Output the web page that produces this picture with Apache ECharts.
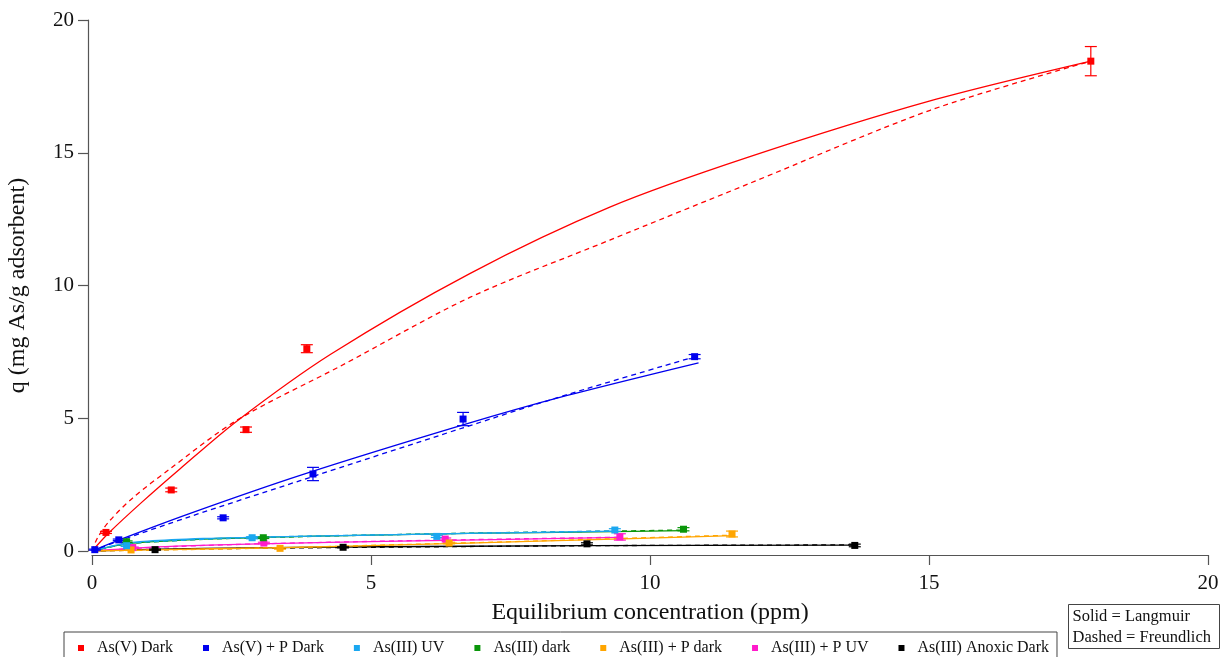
<!DOCTYPE html>
<html><head><meta charset="utf-8">
<script src="https://cdn.jsdelivr.net/npm/echarts@6/dist/echarts.min.js"></script>
<style>html,body{margin:0;padding:0;background:#fff}#c{width:1220px;height:657px}</style>
</head><body><div id="c"></div>
<script>
// Series names
const seriesNames = ['As(V) Dark','As(V) + P Dark','As(III) UV','As(III) dark','As(III) + P dark','As(III) + P UV','As(III) Anoxic Dark'];
const colors = ['#ff0000','#0000ee','#1aa7f0','#0a960a','#ffa500','#ff1acb','#000000'];

// Measured points [x, y, err]
const ptsAsVDark = [[0.25,0.70,0.04],[1.42,2.30,0.07],[2.76,4.57,0.10],[3.85,7.62,0.15],[17.9,18.45,0.55]];
const ptsAsVPDark = [[0.05,0.05,0.02],[0.48,0.42,0.03],[2.35,1.25,0.04],[3.96,2.90,0.25],[6.65,4.97,0.25],[10.8,7.32,0.08]];
const ptsAsIIIUV = [[0.62,0.20,0.03],[2.87,0.50,0.04],[6.18,0.55,0.04],[9.37,0.79,0.05]];
const ptsAsIIIDark = [[0.62,0.35,0.03],[3.07,0.50,0.03],[10.6,0.82,0.06]];
const ptsAsIIIPDark = [[0.70,0.04,0.02],[3.37,0.10,0.03],[6.40,0.30,0.03],[11.47,0.64,0.11]];
const ptsAsIIIPUV = [[0.73,0.13,0.02],[3.08,0.30,0.03],[6.33,0.45,0.04],[9.46,0.53,0.12]];
const ptsAsIIIAnoxic = [[1.13,0.05,0.02],[4.50,0.14,0.02],[8.87,0.27,0.04],[13.67,0.21,0.05]];

// Langmuir fit curves (solid)
const lanAsVDark = [[0,0],[0.3,0.68],[0.9,1.85],[1.58,3.1],[2.6,4.9],[4.27,7.4],[6.77,10.45],[9.28,12.95],[11.79,14.85],[15.02,16.95],[17.9,18.45]];
const lanAsVPDark = [[0,0],[0.5,0.43],[1.76,1.42],[3.73,2.85],[6.65,4.75],[8.5,5.85],[10.87,7.09]];
const lanAsIIIUV = [[0,0],[0.5,0.25],[1,0.37],[2,0.47],[3,0.52],[5,0.6],[7,0.67],[9.4,0.75]];
const lanAsIIIDark = [[0,0],[0.5,0.23],[1,0.34],[2,0.45],[3,0.51],[5,0.6],[7,0.67],[9,0.72],[10.6,0.77]];
const lanAsIIIPDark = [[0,0],[1,0.04],[3.37,0.13],[5.5,0.23],[8,0.37],[11.5,0.58]];
const lanAsIIIPUV = [[0,0],[0.7,0.1],[1.5,0.18],[3,0.27],[5.5,0.37],[9.46,0.51]];
const lanAsIIIAnoxic = [[0,0],[1,0.06],[2,0.1],[4.5,0.15],[8.87,0.2],[13.67,0.22]];

// Freundlich fit curves (dashed)
const freAsVDark = [[0,0],[0.1,0.5],[0.3,1.1],[0.73,2.0],[1.37,3.05],[2.6,4.93],[4.44,6.95],[6.77,9.55],[9.28,11.71],[11.79,13.85],[15.02,16.6],[17.9,18.45]];
const freAsVPDark = [[0,0],[0.5,0.39],[1.76,1.3],[3.73,2.65],[6.65,4.64],[8.5,5.88],[10.84,7.34]];
const freAsIIIUV = [[0,0],[0.5,0.24],[1,0.34],[3,0.52],[6,0.64],[9.4,0.76]];
const freAsIIIDark = [[0,0],[0.5,0.22],[1,0.33],[2,0.44],[3,0.5],[5,0.6],[7,0.68],[9,0.74],[10.6,0.79]];
const freAsIIIPDark = [[0,0],[1,0.03],[3.37,0.12],[5.5,0.24],[8,0.38],[11.5,0.6]];
const freAsIIIPUV = [[0,0],[0.7,0.09],[1.5,0.17],[3,0.27],[5.5,0.38],[9.46,0.52]];
const freAsIIIAnoxic = [[0,0],[1,0.04],[2,0.08],[4.5,0.13],[8.87,0.2],[13.67,0.23]];

// Axis ticks
const xTicks = [0,5,10,15,20];
const yTicks = [0,5,10,15,20];

const allPts = [ptsAsVDark,ptsAsVPDark,ptsAsIIIUV,ptsAsIIIDark,ptsAsIIIPDark,ptsAsIIIPUV,ptsAsIIIAnoxic];
const allLan = [lanAsVDark,lanAsVPDark,lanAsIIIUV,lanAsIIIDark,lanAsIIIPDark,lanAsIIIPUV,lanAsIIIAnoxic];
const allFre = [freAsVDark,freAsVPDark,freAsIIIUV,freAsIIIDark,freAsIIIPDark,freAsIIIPUV,freAsIIIAnoxic];

const FONT = 'Liberation Serif';
const series = [];
for (let i = allPts.length - 1; i >= 0; i--) {
  const c = colors[i];
  series.push({type:'line', name:seriesNames[i]+' L', data:allLan[i], smooth:0.3, showSymbol:false, symbol:'none',
    lineStyle:{color:c, width:1.3, type:'solid'}, silent:true, z:2});
  series.push({type:'line', name:seriesNames[i]+' F', data:allFre[i], smooth:0.3, showSymbol:false, symbol:'none',
    lineStyle:{color:c, width:1.3, type:[5,4]}, silent:true, z:2});
  series.push({type:'custom', name:seriesNames[i]+' E', data:allPts[i].map(p=>[p[0],p[1]-p[2],p[1]+p[2]]),
    renderItem:function(params, api){
      const lo = api.coord([api.value(0), api.value(1)]);
      const hi = api.coord([api.value(0), api.value(2)]);
      const w = 6;
      const st = {stroke:c, lineWidth:1.2};
      return {type:'group', children:[
        {type:'line', shape:{x1:lo[0],y1:lo[1],x2:hi[0],y2:hi[1]}, style:st},
        {type:'line', shape:{x1:lo[0]-w,y1:lo[1],x2:lo[0]+w,y2:lo[1]}, style:st},
        {type:'line', shape:{x1:hi[0]-w,y1:hi[1],x2:hi[0]+w,y2:hi[1]}, style:st}
      ]};
    }, encode:{x:0,y:[1,2]}, z:3, silent:true});
  series.push({type:'scatter', name:seriesNames[i], data:allPts[i].map(p=>[p[0],p[1]]), symbol:'rect', symbolSize:7,
    itemStyle:{color:c, opacity:1}, z:4});
}

const chart = echarts.init(document.getElementById('c'), null, {renderer:'canvas'});
chart.setOption({
  animation:false,
  backgroundColor:'#fff',
  textStyle:{fontFamily:FONT},
  grid:{left:92, right:12, top:20, bottom:106, containLabel:false, outerBoundsMode:'none'},
  xAxis:{type:'value', min:0, max:20, interval:5, offset:4,
    name:'Equilibrium concentration (ppm)', nameLocation:'middle', nameGap:46,
    nameTextStyle:{fontFamily:FONT, fontSize:24, color:'#111'},
    axisLine:{show:true, onZero:false, lineStyle:{color:'#555', width:1.2}},
    axisTick:{show:true, inside:false, length:10, lineStyle:{color:'#555', width:1.2}},
    axisLabel:{fontFamily:FONT, fontSize:21, color:'#111', margin:18,
      formatter:function(v){return xTicks.indexOf(v)>=0 ? String(v) : '';}},
    splitLine:{show:false}},
  yAxis:{type:'value', min:0, max:20, interval:5, offset:4,
    name:'q (mg As/g adsorbent)', nameLocation:'middle', nameGap:58, nameRotate:90,
    nameTextStyle:{fontFamily:FONT, fontSize:24, color:'#111'},
    axisLine:{show:true, onZero:false, lineStyle:{color:'#555', width:1.2}},
    axisTick:{show:true, inside:false, length:10, lineStyle:{color:'#555', width:1.2}},
    axisLabel:{fontFamily:FONT, fontSize:21, color:'#111', margin:14,
      formatter:function(v){return yTicks.indexOf(v)>=0 ? String(v) : '';}},
    splitLine:{show:false}},
  legend:{data:seriesNames.map(n=>({name:n, icon:'rect'})), left:64, top:632, orient:'horizontal',
    itemWidth:6, itemHeight:6, itemGap:30, padding:[8,8,10,14],
    borderColor:'#444', borderWidth:1, selectedMode:false,
    textStyle:{fontFamily:FONT, fontSize:16, color:'#111', padding:[0,0,0,8]}},
  graphic:[{type:'group', left:1068, top:604, children:[
    {type:'rect', shape:{x:0,y:0,width:151,height:44}, style:{fill:'#fff', stroke:'#444', lineWidth:1}},
    {type:'text', left:4, top:2, style:{text:'Solid = Langmuir\nDashed = Freundlich', font:'16.5px "Liberation Serif"', fill:'#111', lineHeight:21}}
  ]}],
  series:series
});
</script></body></html>
